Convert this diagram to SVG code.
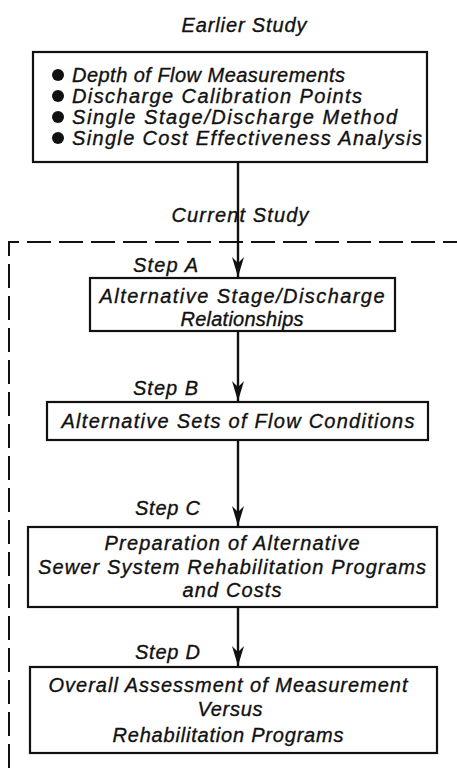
<svg xmlns="http://www.w3.org/2000/svg" width="457" height="770" viewBox="0 0 457 770">
<style>
.t{font-family:"Liberation Sans",Arial,sans-serif;font-style:italic;font-size:20px;fill:#111;stroke:#111;stroke-width:0.35}
.box{fill:#fff;stroke:#111;stroke-width:2.2}
.c{stroke:#111;stroke-width:2.4;fill:none}
.m{text-anchor:middle}
</style>
<defs>
<marker id="ah" markerUnits="userSpaceOnUse" markerWidth="22" markerHeight="14" refX="20" refY="7" orient="auto" viewBox="0 0 22 14">
<path d="M0 1 L20 7 L0 13 L6 7 Z" fill="#111"/>
</marker>
</defs>
<rect width="457" height="770" fill="#fff"/>
<g id="boundary">
<path d="M9 768 V242 H457" fill="none" stroke="#111" stroke-width="2" stroke-dasharray="24 8"/>
</g>
<g id="connectors">
<line class="c" x1="238" y1="162" x2="238" y2="277" marker-end="url(#ah)"/>
<line class="c" x1="238" y1="331" x2="238" y2="401" marker-end="url(#ah)"/>
<line class="c" x1="238" y1="440" x2="238" y2="526" marker-end="url(#ah)"/>
<line class="c" x1="238" y1="607" x2="238" y2="666" marker-end="url(#ah)"/>
</g>
<g id="label-earlier"><text class="t m" x="244" y="32" textLength="125" lengthAdjust="spacing">Earlier Study</text></g>
<g id="node-earlier">
<rect class="box" x="33" y="52" width="394" height="110"/>
<circle cx="58" cy="75" r="6" fill="#111"/>
<circle cx="58" cy="96" r="6" fill="#111"/>
<circle cx="58" cy="117" r="6" fill="#111"/>
<circle cx="58" cy="138" r="6" fill="#111"/>
<text class="t" x="72" y="82" textLength="273" lengthAdjust="spacing">Depth of Flow Measurements</text>
<text class="t" x="72" y="103" textLength="290" lengthAdjust="spacing">Discharge Calibration Points</text>
<text class="t" x="72" y="124" textLength="325" lengthAdjust="spacing">Single Stage/Discharge Method</text>
<text class="t" x="72" y="145" textLength="350" lengthAdjust="spacing">Single Cost Effectiveness Analysis</text>
</g>
<g id="label-current"><text class="t m" x="240" y="222" textLength="137" lengthAdjust="spacing">Current Study</text></g>
<g id="node-a">
<text class="t" x="133" y="272" textLength="65" lengthAdjust="spacing">Step A</text>
<rect class="box" x="90" y="278" width="305" height="53"/>
<text class="t m" x="242" y="303" textLength="285" lengthAdjust="spacing">Alternative Stage/Discharge</text>
<text class="t m" x="242" y="326" textLength="123" lengthAdjust="spacing">Relationships</text>
</g>
<g id="node-b">
<text class="t" x="133" y="395" textLength="65" lengthAdjust="spacing">Step B</text>
<rect class="box" x="47" y="402" width="381" height="38"/>
<text class="t m" x="238" y="428" textLength="353" lengthAdjust="spacing">Alternative Sets of Flow Conditions</text>
</g>
<g id="node-c">
<text class="t" x="135" y="515" textLength="65" lengthAdjust="spacing">Step C</text>
<rect class="box" x="28" y="527" width="409" height="80"/>
<text class="t m" x="232" y="550" textLength="255" lengthAdjust="spacing">Preparation of Alternative</text>
<text class="t m" x="232" y="574" textLength="388" lengthAdjust="spacing">Sewer System Rehabilitation Programs</text>
<text class="t m" x="232" y="597" textLength="99" lengthAdjust="spacing">and Costs</text>
</g>
<g id="node-d">
<text class="t" x="135" y="659" textLength="65" lengthAdjust="spacing">Step D</text>
<rect class="box" x="30" y="667" width="407" height="86"/>
<text class="t m" x="228" y="692" textLength="359" lengthAdjust="spacing">Overall Assessment of Measurement</text>
<text class="t m" x="230" y="716" textLength="65" lengthAdjust="spacing">Versus</text>
<text class="t m" x="228" y="742" textLength="231" lengthAdjust="spacing">Rehabilitation Programs</text>
</g>
</svg>
